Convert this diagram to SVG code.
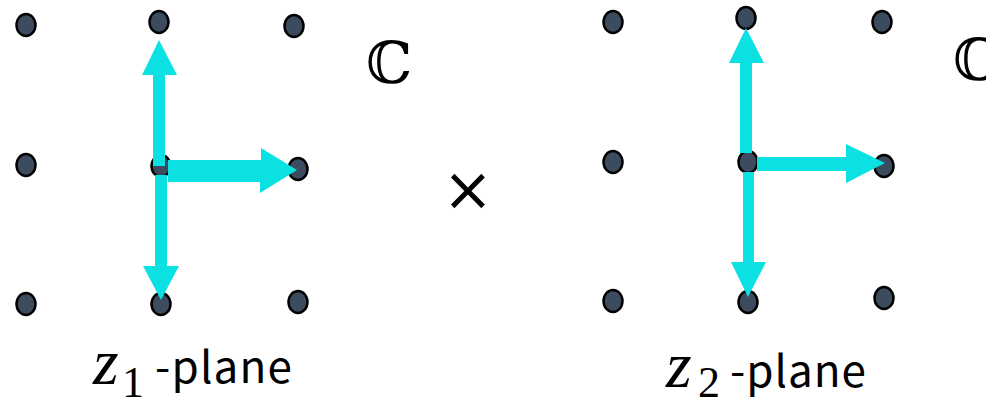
<svg xmlns="http://www.w3.org/2000/svg" width="986" height="398" viewBox="0 0 986 398">
  <style>
    .dot { fill: #3d4b5e; stroke: #000; stroke-width: 2.5; }
    .arrow { fill: #0be0e2; stroke: none; }
    .var { font-family: "Liberation Serif", "DejaVu Serif", serif; font-style: italic; font-size: 66px; fill: #000; }
    .sub { font-family: "Liberation Serif", "DejaVu Serif", serif; font-size: 44px; fill: #000; }
    .word { font-family: "Noto Sans CJK JP", "Noto Sans", sans-serif; font-size: 44px; fill: #000; }
    .field { font-family: "DejaVu Serif", "DejaVu Sans", serif; font-size: 58px; fill: #000; }
    .op { font-family: "DejaVu Sans", sans-serif; font-size: 60px; fill: #000; }
  </style>

  <!-- first factor: lattice in the z1-plane -->
  <g id="plane1">
    <g id="plane1-lattice">
      <ellipse class="dot" cx="26" cy="25" rx="9.5" ry="11"/>
      <ellipse class="dot" cx="159" cy="22" rx="9.5" ry="11"/>
      <ellipse class="dot" cx="294" cy="26" rx="9.5" ry="11"/>
      <ellipse class="dot" cx="26" cy="165" rx="9.5" ry="11"/>
      <ellipse class="dot" cx="161" cy="166" rx="9.5" ry="11"/>
      <ellipse class="dot" cx="298" cy="169" rx="9.5" ry="11"/>
      <ellipse class="dot" cx="26" cy="304" rx="9.5" ry="11"/>
      <ellipse class="dot" cx="161" cy="304" rx="9.5" ry="11"/>
      <ellipse class="dot" cx="298" cy="302" rx="9.5" ry="11"/>
    </g>
    <text class="field" x="366" y="83">ℂ</text>
    <g id="plane1-label">
      <text class="var" x="93" y="384">z</text>
      <text class="sub" x="122" y="397">1</text>
      <text class="word" x="155" y="383" textLength="137" lengthAdjust="spacing">-plane</text>
    </g>
  </g>

  <!-- second factor: lattice in the z2-plane -->
  <g id="plane2">
    <g id="plane2-lattice">
      <ellipse class="dot" cx="613" cy="22" rx="9.5" ry="11"/>
      <ellipse class="dot" cx="746" cy="18" rx="9.5" ry="11"/>
      <ellipse class="dot" cx="882" cy="22" rx="9.5" ry="11"/>
      <ellipse class="dot" cx="613" cy="162" rx="9.5" ry="11"/>
      <ellipse class="dot" cx="748" cy="162" rx="9.5" ry="11"/>
      <ellipse class="dot" cx="884" cy="166" rx="9.5" ry="11"/>
      <ellipse class="dot" cx="613" cy="301" rx="9.5" ry="11"/>
      <ellipse class="dot" cx="748" cy="302" rx="9.5" ry="11"/>
      <ellipse class="dot" cx="884" cy="298" rx="9.5" ry="11"/>
    </g>
    <text class="field" x="953" y="80">ℂ</text>
    <g id="plane2-label">
      <text class="var" x="666" y="387">z</text>
      <text class="sub" x="698" y="397">2</text>
      <text class="word" x="730" y="387" textLength="136" lengthAdjust="spacing">-plane</text>
    </g>
  </g>

  <g id="times">
    <text class="op" x="468" y="210" text-anchor="middle">×</text>
  </g>

  <!-- generator vectors drawn from the origin of each lattice -->
  <g id="connectors">
    <path class="arrow" d="M153,166 V75 H142 L159,40 L177,75 H165 V166 Z"/>
    <path class="arrow" d="M155,175 V266 H143 L161,300 L179,266 H167 V175 Z"/>
    <path class="arrow" d="M168,160 H261 V148 L297,170 L260,193 V182 H168 Z"/>

    <path class="arrow" d="M740,153 V63 H729 L746,28 L764,63 H752 V153 Z"/>
    <path class="arrow" d="M743,172 V262 H731 L748,297 L766,262 H754 V172 Z"/>
    <path class="arrow" d="M757,157 H846 V144 L885,163 L846,183 V171 H757 Z"/>
  </g>
</svg>
